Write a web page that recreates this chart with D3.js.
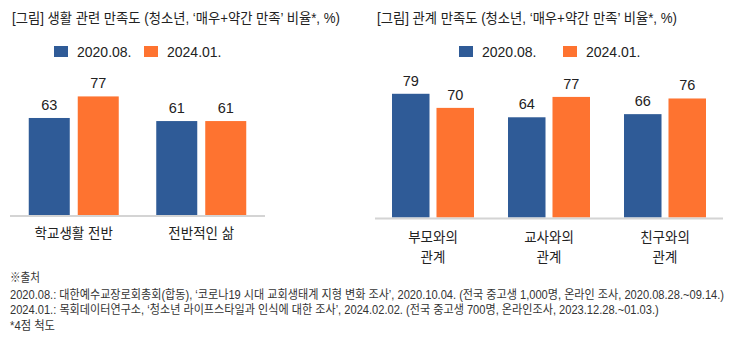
<!DOCTYPE html>
<html><head><meta charset="utf-8">
<script src="https://cdn.jsdelivr.net/npm/d3@7"></script>
<style>
html,body{margin:0;padding:0;background:#fff;}
text{font-family:"Liberation Sans","Noto Sans CJK KR",sans-serif;fill:#222;}
</style></head>
<body><svg id="c" width="734" height="344"></svg>
<script>
const series = ["2020.08.", "2024.01."];
const colors = ["#2f5b97", "#fe7330"];

const leftTitle = "[그림] 생활 관련 만족도 (청소년, ‘매우+약간 만족’ 비율*, %)";
const leftCategories = [["학교생활 전반"], ["전반적인 삶"]];
const leftV2020 = [63, 61];
const leftV2024 = [77, 61];

const rightTitle = "[그림] 관계 만족도 (청소년, ‘매우+약간 만족’ 비율*, %)";
const rightCategories = [["부모와의", "관계"], ["교사와의", "관계"], ["친구와의", "관계"]];
const rightV2020 = [79, 64, 66];
const rightV2024 = [70, 77, 76];

const footnotes = [
  "※출처",
  "2020.08.: 대한예수교장로회총회(합동), ‘코로나19 시대 교회생태계 지형 변화 조사’, 2020.10.04. (전국 중고생 1,000명, 온라인 조사, 2020.08.28.~09.14.)",
  "2024.01.: 목회데이터연구소, ‘청소년 라이프스타일과 인식에 대한 조사’, 2024.02.02. (전국 중고생 700명, 온라인조사, 2023.12.28.~01.03.)",
  "*4점 척도"
];

const svg = d3.select("#c");

function panel(cfg) {
  const g = svg.append("g");
  g.append("text").attr("x", cfg.titleX).attr("y", 23)
    .attr("font-size", 14).attr("textLength", cfg.titleW).attr("lengthAdjust", "spacingAndGlyphs")
    .text(cfg.title);
  series.forEach((s, i) => {
    const lx = cfg.legendX[i];
    g.append("rect").attr("x", lx).attr("y", 46).attr("width", 14).attr("height", 11).attr("fill", colors[i]);
    g.append("text").attr("x", lx + 23).attr("y", 56.5).attr("font-size", 14).text(s);
  });
  const idx = d3.range(cfg.categories.length);
  const x0 = d3.scaleBand().domain(idx).range([cfg.x0, cfg.x1]).padding(0);
  const y = d3.scaleLinear().domain([0, 100]).range([cfg.base, cfg.base - cfg.k * 100]);
  const gw = cfg.groupW;
  const off = (x0.bandwidth() - gw) / 2;
  const x1 = d3.scaleBand().domain([0, 1]).range([off, off + gw]).paddingInner(cfg.pin).paddingOuter(0);
  const vals = [cfg.v1, cfg.v2];
  idx.forEach(ci => {
    [0, 1].forEach(si => {
      const v = vals[si][ci];
      const bx = x0(ci) + x1(si);
      g.append("rect").attr("x", bx).attr("y", y(v)).attr("width", x1.bandwidth())
        .attr("height", y(0) - y(v)).attr("fill", colors[si]);
      g.append("text").attr("x", bx + x1.bandwidth() / 2).attr("y", y(v) - 8)
        .attr("text-anchor", "middle").attr("font-size", 14.5).text(v);
    });
    const lines = cfg.categories[ci];
    lines.forEach((ln, li) => {
      g.append("text").attr("x", x0(ci) + x0.bandwidth() / 2).attr("y", cfg.labY + li * 20)
        .attr("text-anchor", "middle").attr("font-size", 13.5).text(ln);
    });
  });
  g.append("line").attr("x1", cfg.x0).attr("x2", cfg.x1).attr("y1", cfg.base + 1).attr("y2", cfg.base + 1)
    .attr("stroke", "#d4d4d4").attr("stroke-width", 2);
}

panel({title: leftTitle, titleX: 12, titleW: 328, legendX: [54, 144], categories: leftCategories,
  v1: leftV2020, v2: leftV2024, x0: 10, x1: 265, base: 215, k: 1.54, groupW: 90, pin: 0.163, labY: 238});
panel({title: rightTitle, titleX: 377, titleW: 300, legendX: [459, 563], categories: rightCategories,
  v1: rightV2020, v2: rightV2024, x0: 375, x1: 723, base: 217.5, k: 1.566, groupW: 82, pin: 0.157, labY: 241.5});

const fy = [282, 298.5, 314, 329.5];
const fw = [30, 715, 650, 45];
footnotes.forEach((t, i) => {
  const fg = svg.append("g").attr("transform", `translate(10,${fy[i]})`);
  const tx = fg.append("text").attr("x", 0).attr("y", 0).attr("font-size", 12)
    .style("fill", "#333").text(t);
  const w = tx.node().getComputedTextLength();
  tx.attr("transform", `scale(${fw[i] / w},1)`);
});
</script></body></html>
